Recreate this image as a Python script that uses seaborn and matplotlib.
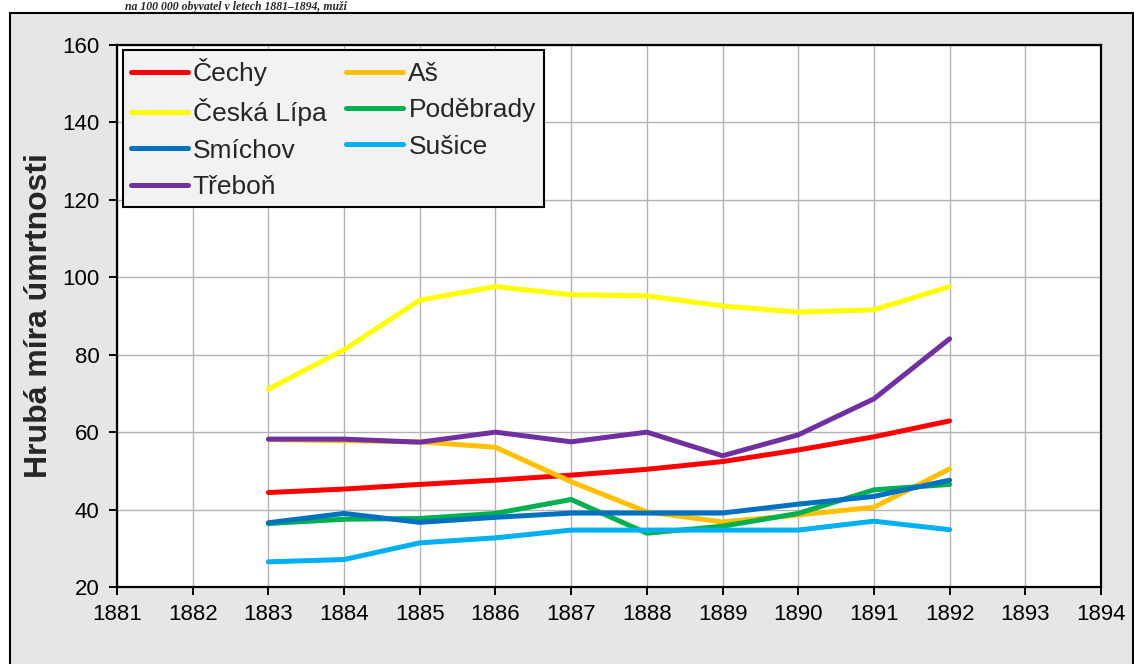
import matplotlib
matplotlib.use("Agg")
import matplotlib.pyplot as plt
import seaborn as sns
import pandas as pd
from matplotlib.patches import Rectangle

years = [1883, 1884, 1885, 1886, 1887, 1888, 1889, 1890, 1891, 1892]
cechy = [44.4, 45.3, 46.5, 47.6, 48.9, 50.4, 52.4, 55.4, 58.8, 62.9]
as_ = [58.1, 57.8, 57.5, 56.1, 47.2, 39.4, 36.8, 38.6, 40.6, 50.5]
ceska_lipa = [71.1, 81.3, 94.1, 97.6, 95.5, 95.2, 92.6, 91.0, 91.6, 97.6]
podebrady = [36.4, 37.5, 37.7, 39.0, 42.6, 33.9, 35.7, 39.0, 45.1, 46.5]
smichov = [36.6, 39.0, 36.7, 38.0, 39.1, 39.1, 39.1, 41.4, 43.4, 47.6]
susice = [26.5, 27.1, 31.4, 32.7, 34.7, 34.7, 34.7, 34.7, 37.0, 34.8]
trebon = [58.2, 58.2, 57.4, 60.0, 57.5, 60.0, 53.9, 59.3, 68.6, 84.1]

series_names = ["Čechy", "Aš", "Česká Lípa", "Poděbrady", "Smíchov", "Sušice", "Třeboň"]
series_values = [cechy, as_, ceska_lipa, podebrady, smichov, susice, trebon]
colors = ["#FF0000", "#FFC000", "#FFFF00", "#00B050", "#0070C0", "#00B0F0", "#7030A0"]

x_ticks = list(range(1881, 1895))
y_ticks = list(range(20, 161, 20))
y_label = "Hrubá míra úmrtnosti"
top_text = "na 100 000 obyvatel v letech 1881–1894, muži"

rows = []
for name, vals in zip(series_names, series_values):
    for y, v in zip(years, vals):
        rows.append({"rok": y, "hodnota": v, "oblast": name})
df = pd.DataFrame(rows)

sns.set_style("white")
plt.rcParams["font.family"] = ["Liberation Sans", "DejaVu Sans"]

fig = plt.figure(figsize=(11.34, 6.64), dpi=100)
fig.patch.set_facecolor("white")
frame = Rectangle((10 / 1134, -0.02), 1122.5 / 1134, 1 - 12.5 / 664 + 0.02,
                  transform=fig.transFigure, facecolor="#e6e6e6",
                  edgecolor="black", linewidth=1.5, zorder=-10)
fig.patches.append(frame)
fig.text(125 / 1134, 1 - 1 / 664, top_text, fontsize=8.5, style="italic",
         weight="bold", family=["Liberation Serif", "DejaVu Serif"], va="top", ha="left")

ax = fig.add_axes([117 / 1134, 1 - 587 / 664, 984 / 1134, 542 / 664])
ax.set_zorder(5)
ax.set_facecolor("white")

sns.lineplot(data=df, x="rok", y="hodnota", hue="oblast", hue_order=series_names,
             palette=colors, linewidth=3.6, ax=ax, legend=True, sort=False)
for line in ax.get_lines():
    line.set_solid_capstyle("round")
    line.set_solid_joinstyle("round")

ax.set_xlim(1881, 1894)
ax.set_ylim(20, 160)
ax.set_xticks(x_ticks)
ax.set_xticklabels([str(t) for t in x_ticks])
ax.set_yticks(y_ticks)
ax.grid(True, color="#b3b3b3", linewidth=1.0)
ax.set_axisbelow(True)
for s in ax.spines.values():
    s.set_color("black")
    s.set_linewidth(1.6)
    s.set_visible(True)
ax.tick_params(axis="both", direction="out", length=5.5, width=1.4, colors="black",
               labelsize=16, pad=7, bottom=True, left=True)
ax.set_xlabel("")
ax.set_ylabel(y_label, fontsize=23, fontweight="bold", labelpad=6)

handles, labels = ax.get_legend_handles_labels()
hmap = dict(zip(labels, handles))
order = ["Čechy", "Česká Lípa", "Smíchov", "Třeboň", "Aš", "Poděbrady", "Sušice"]
leg = ax.legend([hmap[k] for k in order], order, loc="upper left",
                bbox_to_anchor=(0.006, 0.991), borderaxespad=0, ncol=2,
                fontsize=19, frameon=True, fancybox=False, framealpha=1,
                facecolor="#f2f2f2", edgecolor="black", handlelength=2.15,
                handletextpad=0.2, columnspacing=0.75, labelspacing=0.47,
                borderpad=0.3)
leg.get_frame().set_linewidth(1.5)
for h in leg.get_lines():
    h.set_linewidth(3.6)
    h.set_solid_capstyle("round")

fig.savefig("out.png", dpi=100)
